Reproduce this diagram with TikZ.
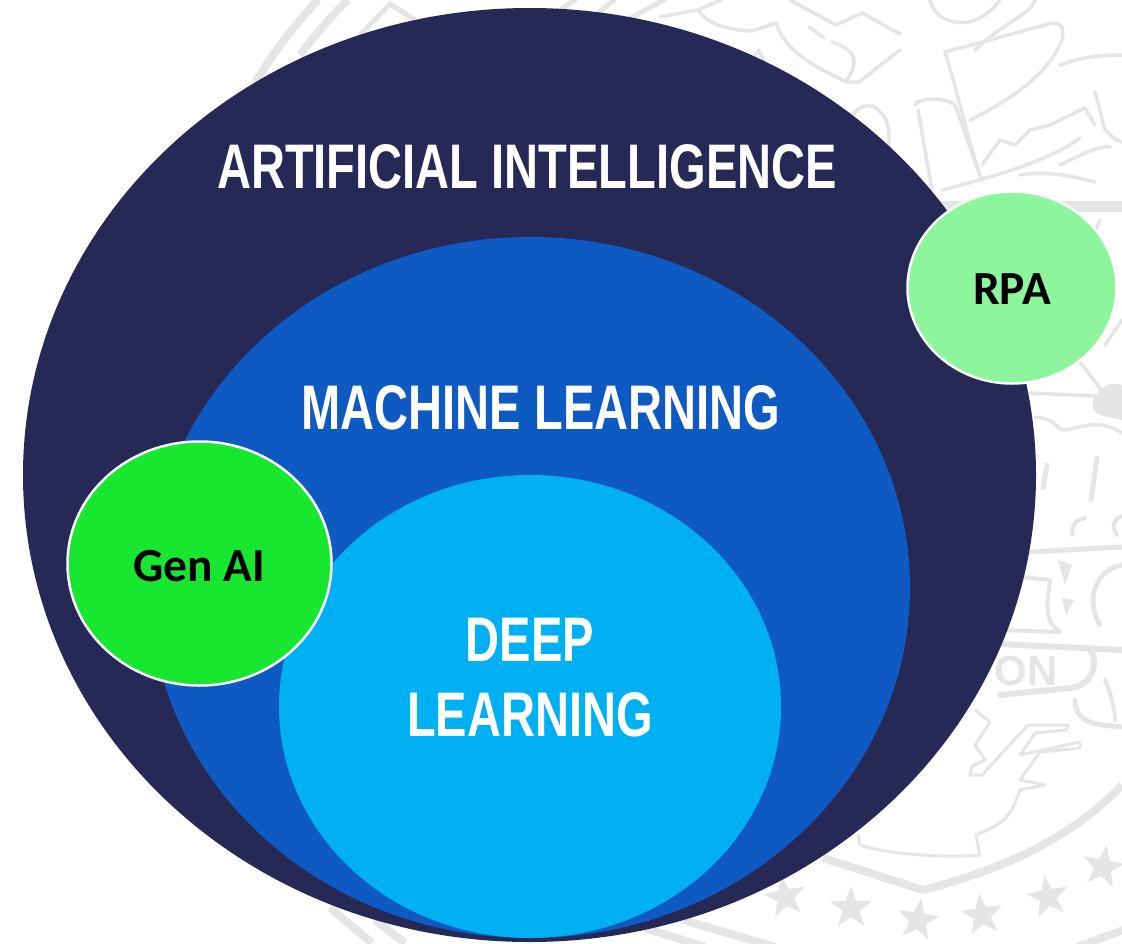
\documentclass[tikz,border=0pt]{standalone}
\usepackage{fontspec}
\usetikzlibrary{shapes.geometric}
\newfontfamily\titlefont[FakeStretch=0.747]{Liberation Sans}
\newfontfamily\labelfont{Carlito}
\setmainfont{Liberation Sans}
\definecolor{navy}{HTML}{262955}
\definecolor{midblue}{HTML}{0E59C2}
\definecolor{skyblue}{HTML}{00B0F2}
\definecolor{genai}{HTML}{17E82F}
\definecolor{rpa}{HTML}{8DF59B}
\definecolor{wmgray}{HTML}{E5E5E5}
\tikzset{
  wm/.style={draw=wmgray,line width=3.5pt,line join=round,line cap=round},
  wmband/.style={draw=wmgray,line width=8pt,line join=miter},
  blob/.style={ellipse,inner sep=0pt,outer sep=0pt},
  heading/.style={text=white,font=\titlefont\bfseries\fontsize{63}{75}\selectfont,inner sep=0pt,align=center},
  tag/.style={text=black,font=\labelfont\bfseries\fontsize{47.5}{56}\selectfont,inner sep=0pt},
}
\newcommand{\wmstar}[3]{\fill[wmgray,shift={(#1,#2)},rotate=#3] (-90:22) -- (-54:9) -- (-18:22) -- (18:9) -- (54:22) -- (90:9) -- (126:22) -- (162:9) -- (198:22) -- (234:9) -- cycle;}
\begin{document}
\begin{tikzpicture}[x=1pt,y=-1pt]
\useasboundingbox (0,0) rectangle (1122,943);
\fill[white] (0,0) rectangle (1122,943);
% watermark seal
\draw[wmband] (255,83) .. controls (275,50) and (295,25) .. (318,0);
\draw[wmband] (300,55) .. controls (315,35) and (332,15) .. (348,0);
\draw[wmband,line width=5pt] (360,35) -- (390,4) -- (415,20);
\draw[wm,line width=5pt] (560,10) -- (575,0);
\draw[wm,line width=5pt] (598,13) -- (614,0);
\draw[wm,line width=5pt] (629,19) -- (664,0);
\draw[wm] (660,17) -- (698,10) .. controls (705,20) and (720,30) .. (752,31) -- (776,23) .. controls (785,50) and (810,65) .. (847,82) -- (859,82) -- (900,50);
\draw[wm] (698,10) -- (721,0);
\draw[wm] (790,0) -- (836,25) -- (862,13) -- (900,34);
\draw[wm] (809,27) -- (824,38);
\draw[wm] (832,42) .. controls (855,50) and (860,60) .. (847,80);
\draw[wm] (751,61) -- (759,50) -- (767,69);
\draw[wm] (847,126) .. controls (855,105) and (870,100) .. (880,112) .. controls (890,120) and (889,135) .. (889,149);
\draw[wm] (930,0) .. controls (935,25) and (975,35) .. (1000,0);
\draw[wm] (1035,0) .. controls (1030,15) and (1000,25) .. (975,50);
\draw[wm] (945,52) -- (1045,25) .. controls (1060,20) and (1065,25) .. (1062,40) .. controls (1050,70) and (1020,95) .. (970,120);
\draw[wm] (945,52) .. controls (960,100) and (970,150) .. (982,180);
\draw[wm] (1060,65) .. controls (1075,60) and (1090,55) .. (1122,55);
\draw[wm] (1095,92) -- (1105,130) .. controls (1110,135) and (1115,140) .. (1122,142);
\draw[wm] (915,105) .. controls (915,100) and (940,95) .. (955,105) -- (978,170);
\draw[wm] (918,110) -- (932,190);
\draw[wm] (982,165) -- (1000,140) -- (1015,145) -- (1030,130) -- (1050,125) -- (1085,108) -- (1095,125);
\draw[wm] (942,190) .. controls (1000,175) and (1050,160) .. (1080,138);
\draw[wm] (1020,175) .. controls (1050,170) and (1080,178) .. (1095,182);
\draw[wm] (1060,165) .. controls (1080,155) and (1100,145) .. (1110,147);
\fill[wmgray] (940,201) rectangle (1122,212);
\draw[wm] (1100,220) -- (1085,255);
\draw[wm] (1122,320) -- (1105,345);
\draw[wm] (1080,362) -- (1105,395);
\fill[wmgray] (1100,390) .. controls (1110,380) and (1122,385) .. (1122,385) -- (1122,420) -- (1100,415) .. controls (1090,410) and (1090,400) .. (1100,390) -- cycle;
\draw[wm] (1030,393) -- (1095,396);
\draw[wm] (1035,417) .. controls (1060,420) and (1055,430) .. (1065,430) .. controls (1090,425) and (1100,420) .. (1122,433);
\draw[wm,line width=5pt] (1047,465) -- (1043,488);
\draw[wm,line width=5pt] (1097,458) -- (1091,500);
\draw[wm,line width=4pt] (1072,535) .. controls (1072,525) and (1075,520) .. (1085,518);
\draw[wm,line width=4pt] (1117,535) .. controls (1110,525) and (1115,518) .. (1122,516);
\draw[wm,line width=5pt] (1030,552) -- (1122,547);
\fill[wmgray] (1058,560) -- (1072,565) -- (1065,585) -- cycle;
\fill[wmgray] (1062,598) -- (1074,600) -- (1066,615) -- cycle;
\draw[wm,line width=5pt,dashed] (1122,565) .. controls (1095,570) and (1085,600) .. (1100,625);
\draw[wm,line width=4pt] (1000,630) -- (1060,632) .. controls (1040,620) and (1050,590) .. (1050,580) -- (1000,575);
\draw[wm,line width=6pt] (1000,644) -- (1122,650);
\draw[wm,line width=6pt] (1000,695) -- (1070,688) .. controls (1095,685) and (1098,660) .. (1090,650);
\draw[wm,line width=5pt] (1075,700) .. controls (1075,725) and (1100,725) .. (1122,727);
\draw[wm,line width=4pt] (1105,680) .. controls (1110,690) and (1115,710) .. (1115,720);
\draw[wm,line width=3pt] (975,710) -- (990,722) -- (975,745) -- (985,760) -- (972,766) -- (970,775) -- (982,775) -- (1028,725) -- (1068,725) -- (1066,730) -- (1035,733) -- (1020,755) -- (1080,742) -- (1080,748) -- (1040,752) -- (1020,780) -- (1045,785) -- (1020,790) .. controls (1010,820) and (1000,825) .. (976,835) -- (980,855) .. controls (950,858) and (890,855) .. (860,845) -- (858,835);
\draw[wmband] (823,858) -- (923,890) .. controls (1000,870) and (1070,840) .. (1122,785);
\wmstar{785}{897}{10}
\wmstar{851}{908}{0}
\wmstar{918}{920}{-8}
\wmstar{982}{915}{8}
\wmstar{1048}{897}{10}
\wmstar{1103}{867}{-10}
\draw[wmband] (683,920) -- (775,947);
\draw[wmband] (645,928) -- (705,947);
\draw[wmband] (1078,947) -- (1126,929);
\draw[wmband] (330,908) -- (372,943);
\draw[wmband] (375,920) -- (405,943);
\node[text=wmgray,font=\bfseries\fontsize{42}{48}\selectfont,inner sep=0pt,anchor=east] (seal) at (1058,671) {ON};
% circles
\node[blob,fill=navy,minimum width=1013pt,minimum height=934pt] (ai) at (529.5,475) {};
\node[blob,fill=midblue,minimum width=760pt,minimum height=701pt] (ml) at (530,587.5) {};
\node[blob,fill=skyblue,minimum width=502pt,minimum height=463pt] (dl) at (530,706.5) {};
\node[blob,fill=genai,draw=white,line width=2.5pt,minimum width=264pt,minimum height=244pt] (gen) at (199.5,563.5) {};
\node[blob,fill=rpa,draw=white,line width=2.5pt,minimum width=209pt,minimum height=192pt] (rpan) at (1012,287.5) {};
% labels
\node[heading] (tai) at (527,167) {ARTIFICIAL INTELLIGENCE};
\node[heading] (tml) at (541,408) {MACHINE LEARNING};
\node[heading] (tdeep) at (530,640) {DEEP};
\node[heading] (tlearn) at (530,715) {LEARNING};
\node[tag] (tgen) at (199,566) {Gen AI};
\node[tag] (trpa) at (1012,289) {RPA};
\end{tikzpicture}
\end{document}
